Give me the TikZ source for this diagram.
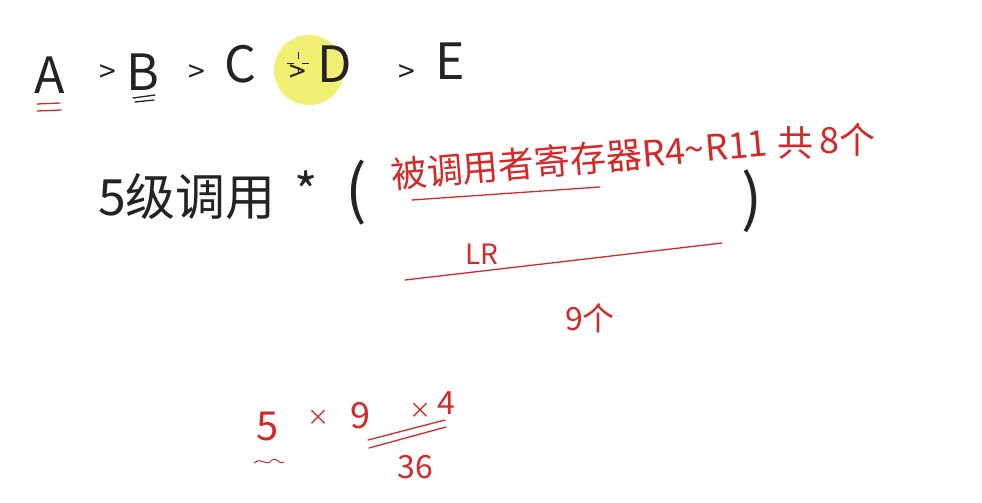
\documentclass[tikz,border=0pt]{standalone}
\usepackage{fontspec}
\setmainfont{Noto Sans CJK SC}
\definecolor{redpen}{RGB}{214,40,40}
\definecolor{blackpen}{RGB}{35,35,35}
\definecolor{hilite}{RGB}{240,238,90}
\begin{document}
\begin{tikzpicture}[x=1pt,y=-1pt,every node/.style={inner sep=0pt,anchor=base},
  blk/.style={text=blackpen,font=\fontsize{50}{50}\selectfont},
  arr/.style={text=blackpen,font=\fontsize{30}{30}\selectfont},
  rd/.style={text=redpen,font=\fontsize{32}{32}\selectfont},
  slant/.style={rd,rotate=5,anchor=base west,font=\fontsize{36}{36}\selectfont},
  tail/.style={rd,anchor=base west,font=\fontsize{36}{36}\selectfont},
  redline/.style={draw=redpen,line width=1.3pt,line cap=round},
  blkline/.style={draw=blackpen,line width=1.3pt,line cap=round}]
\useasboundingbox[fill=white] (0,0) rectangle (982,503);
\fill[hilite,opacity=0.85] (309,70) circle (35);
\node[blk] (a) at (50,93) {A};
\node[blk] (b) at (143,90) {B};
\node[blk] (c) at (240,82) {C};
\node[blk] (d) at (335,82) {D};
\node[blk] (e) at (450,80) {E};
\foreach \x/\n in {108/ab,197/bc,298/cd,407/de} {\node[arr] (\n) at (\x,82) {>};}
\draw[blackpen,line width=0.8pt] (287,63)--(294,63) (302,63)--(309,63) (298,52)--(298,59) (298,67)--(298,74);
\draw[redline] (37,104)--(60,103) (37,111)--(61,110);
\draw[blkline] (133,98)--(155,95) (135,102)--(154,100);
\node[blk] (lvl) at (187,215) {5级调用};
\node[blk] (star) at (306,210) {*};
\node[blk,font=\fontsize{64}{64}\selectfont] (lp) at (356,212) {(};
\node[blk,font=\fontsize{62}{62}\selectfont] (rp) at (752,220) {)};
\node[slant] (regs1) at (392,189) {被调用者寄存器R4\textasciitilde};
\node[slant] (regs2) at (regs1.base east) {R11};
\node[tail] (regs3) at ([xshift=8pt]regs2.base east) {共};
\node[tail] (regs4) at ([xshift=6pt,yshift=3pt]regs3.base east) {8个};
\draw[redline] (412,200)--(600,187);
\node[rd,font=\fontsize{28}{28}\selectfont] (lr) at (482,264) {LR};
\draw[redline] (405,280) .. controls (560,262) .. (722,243);
\node[rd] (nine) at (590,330) {9个};
\node[rd,font=\fontsize{40}{40}\selectfont] (five) at (268,440) {5};
\draw[redline,line width=1pt] (254,463) .. controls (262,456) and (266,468) .. (272,460) .. controls (276,456) and (280,466) .. (284,462);
\node[rd,font=\fontsize{22}{22}\selectfont] (t1) at (318,425) {×};
\node[rd,font=\fontsize{36}{36}\selectfont] (n9) at (360,428) {9};
\node[rd,font=\fontsize{22}{22}\selectfont] (t2) at (420,418) {×};
\node[rd] (n4) at (446,414) {4};
\draw[redline] (368,440)--(445,420) (369,448)--(446,427);
\node[rd] (sum) at (415,478) {36};
\end{tikzpicture}
\end{document}
